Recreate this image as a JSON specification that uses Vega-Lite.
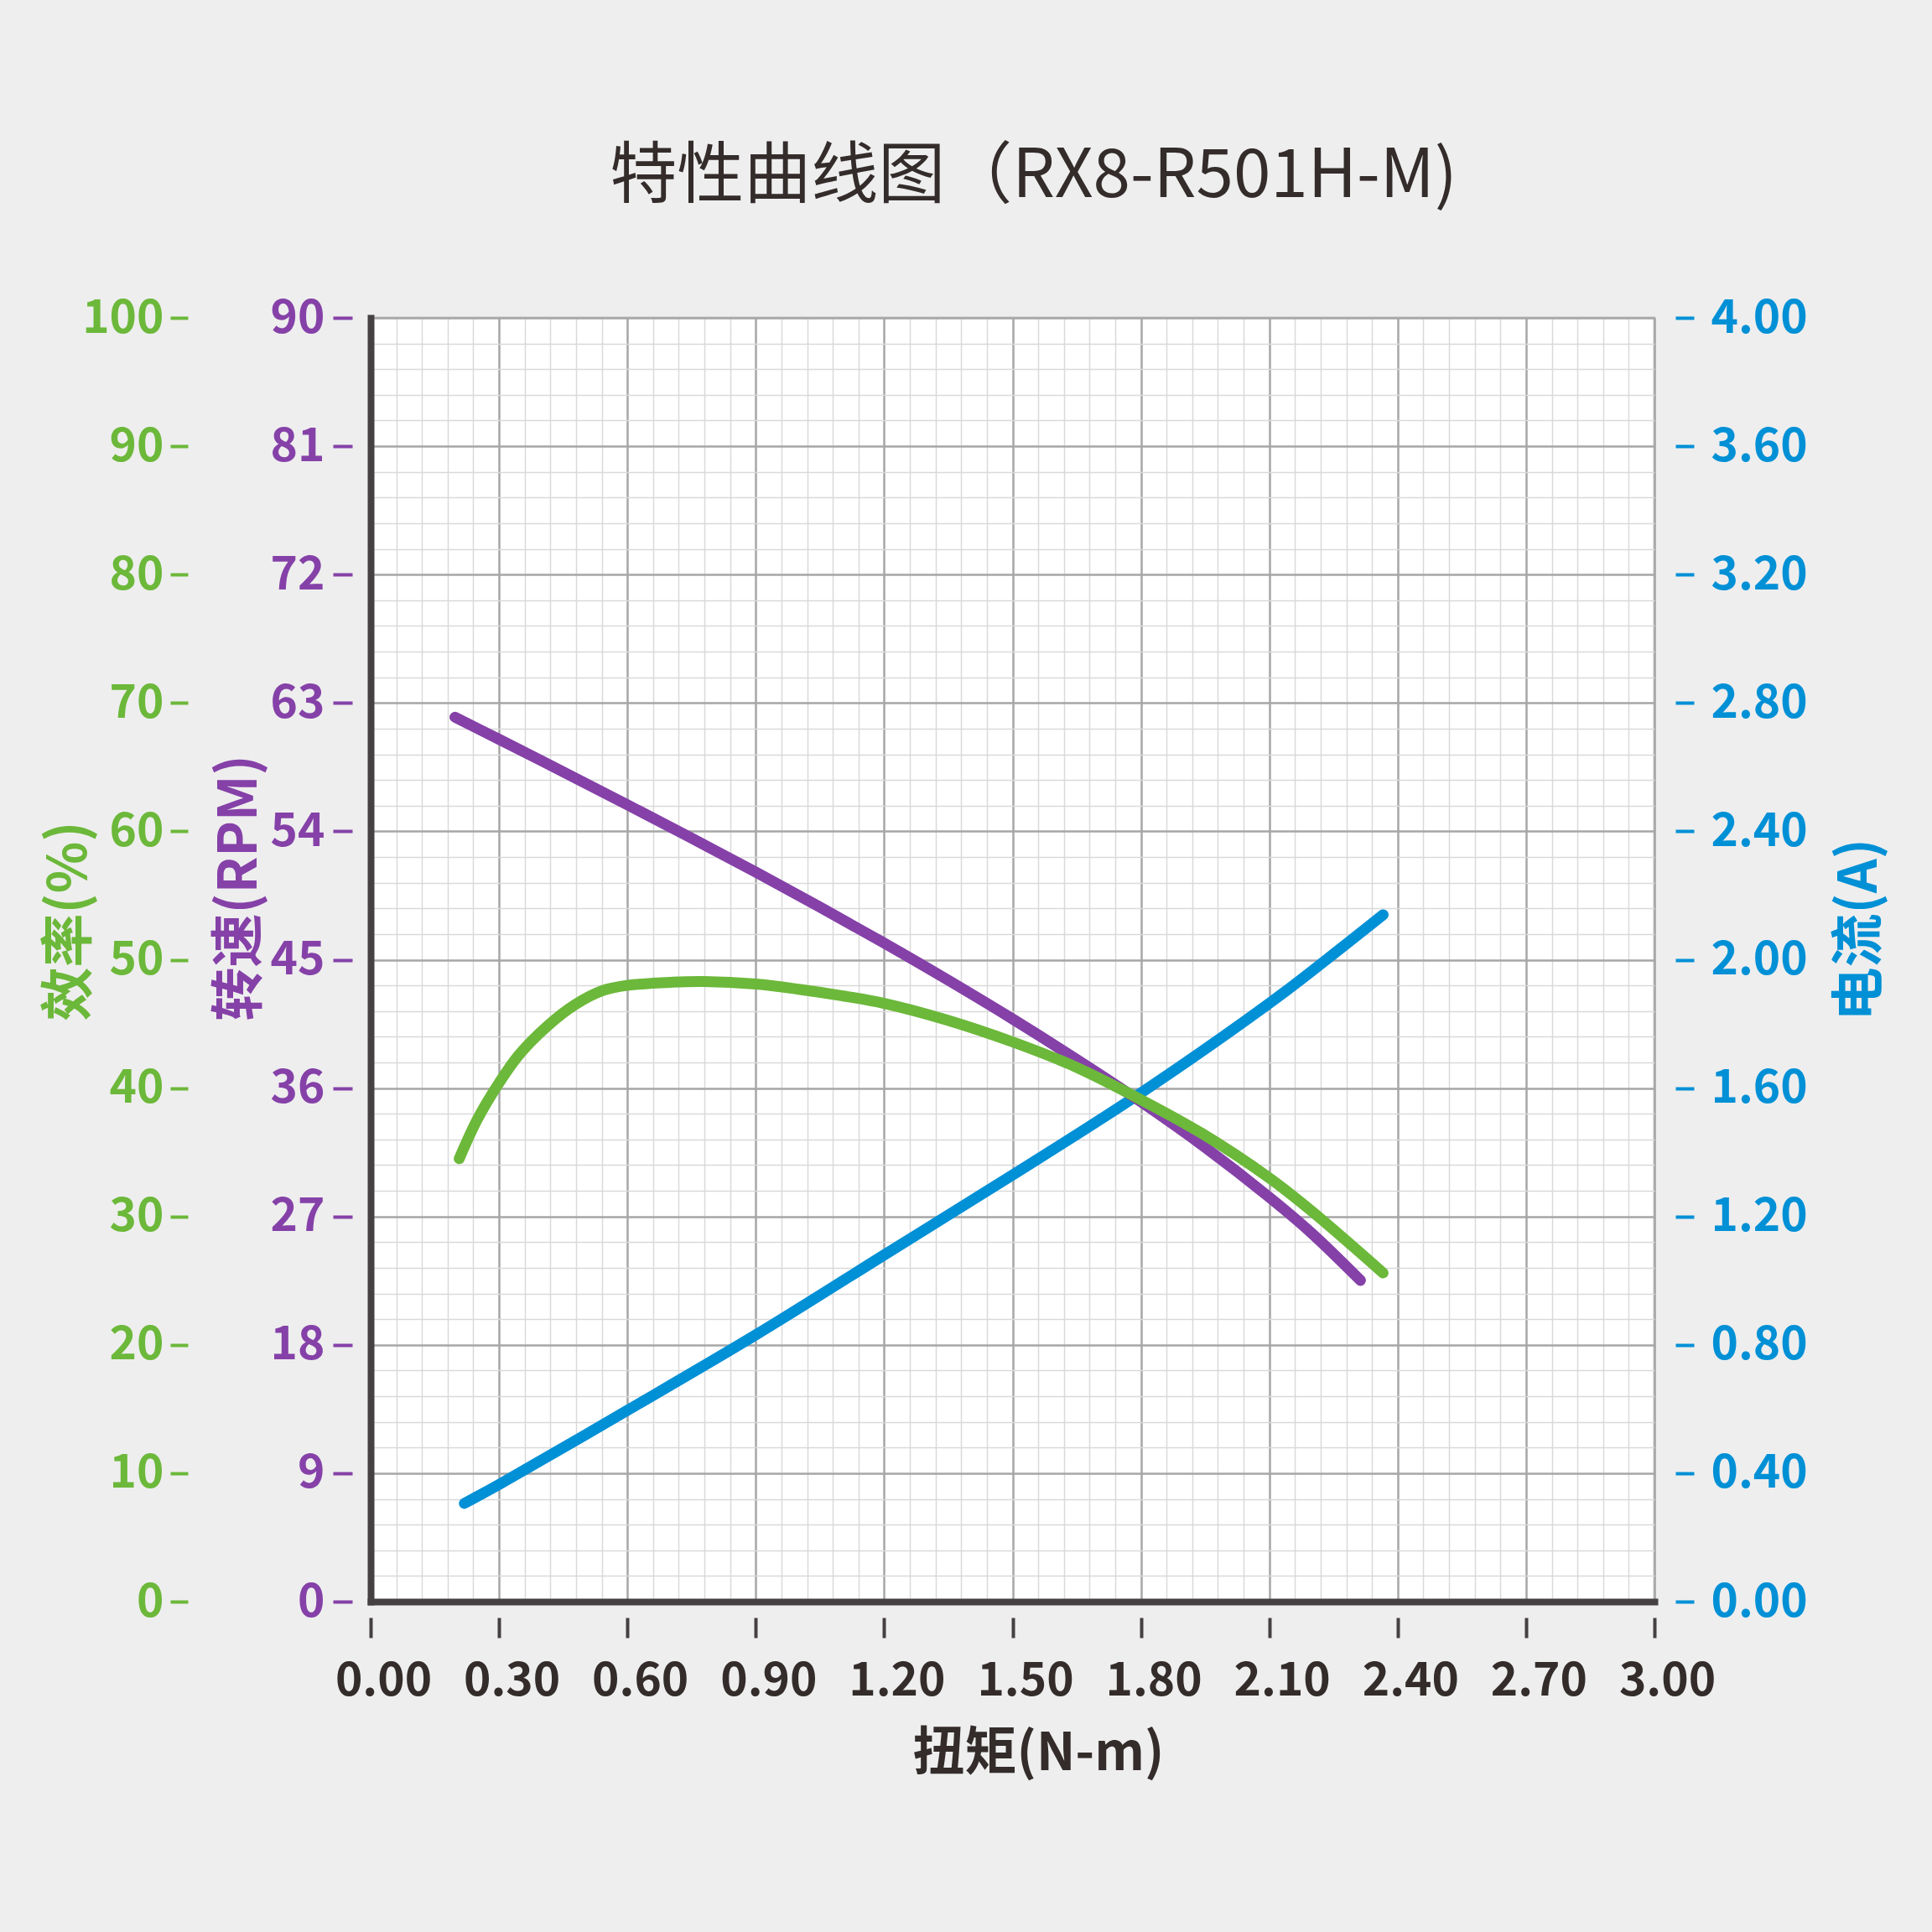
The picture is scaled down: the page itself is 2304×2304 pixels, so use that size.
{
  "$schema": "https://vega.github.io/schema/vega-lite/v6.json",
  "width": 1531,
  "height": 1531,
  "autosize": {"type": "none"},
  "padding": {"left": 442, "top": 379, "right": 331, "bottom": 394},
  "background": "#eeeeee",
  "config": {
    "view": {"stroke": "#c8c8c8", "strokeWidth": 3, "fill": "#ffffff"},
    "font": "Noto Sans CJK SC",
    "axis": {"labelFont": "Noto Sans CJK SC", "titleFont": "Noto Sans CJK SC"}
  },
  "title": {
    "text": "特性曲线图（RX8-R501H-M)",
    "fontSize": 80,
    "fontWeight": "normal",
    "color": "#332c2b",
    "font": "Noto Sans CJK SC",
    "anchor": "middle",
    "dx": 25,
    "offset": 100
  },
  "datasets": {
    "speed": [
      {"torque": 0.197, "rpm": 62.0},
      {"torque": 0.30, "rpm": 60.45},
      {"torque": 0.45, "rpm": 58.17},
      {"torque": 0.60, "rpm": 55.86},
      {"torque": 0.75, "rpm": 53.52},
      {"torque": 0.90, "rpm": 51.14},
      {"torque": 1.05, "rpm": 48.69},
      {"torque": 1.20, "rpm": 46.17},
      {"torque": 1.35, "rpm": 43.56},
      {"torque": 1.50, "rpm": 40.85},
      {"torque": 1.65, "rpm": 38.01},
      {"torque": 1.80, "rpm": 35.04},
      {"torque": 1.95, "rpm": 31.85},
      {"torque": 2.10, "rpm": 28.35},
      {"torque": 2.20, "rpm": 25.80},
      {"torque": 2.313, "rpm": 22.52}
    ],
    "eff": [
      {"torque": 0.207, "eff": 34.5},
      {"torque": 0.25, "eff": 37.6},
      {"torque": 0.30, "eff": 40.4},
      {"torque": 0.347, "eff": 42.6},
      {"torque": 0.412, "eff": 44.8},
      {"torque": 0.478, "eff": 46.5},
      {"torque": 0.543, "eff": 47.6},
      {"torque": 0.60, "eff": 48.0},
      {"torque": 0.706, "eff": 48.25},
      {"torque": 0.778, "eff": 48.3},
      {"torque": 0.90, "eff": 48.1},
      {"torque": 1.00, "eff": 47.7},
      {"torque": 1.10, "eff": 47.2},
      {"torque": 1.20, "eff": 46.6},
      {"torque": 1.347, "eff": 45.3},
      {"torque": 1.50, "eff": 43.6},
      {"torque": 1.644, "eff": 41.7},
      {"torque": 1.80, "eff": 39.1},
      {"torque": 1.941, "eff": 36.5},
      {"torque": 2.10, "eff": 33.0},
      {"torque": 2.196, "eff": 30.5},
      {"torque": 2.366, "eff": 25.6}
    ],
    "current": [
      {"torque": 0.219, "amp": 0.306},
      {"torque": 0.30, "amp": 0.365},
      {"torque": 0.60, "amp": 0.596},
      {"torque": 0.90, "amp": 0.831},
      {"torque": 1.20, "amp": 1.080},
      {"torque": 1.50, "amp": 1.329},
      {"torque": 1.80, "amp": 1.585},
      {"torque": 2.10, "amp": 1.864},
      {"torque": 2.238, "amp": 2.005},
      {"torque": 2.366, "amp": 2.140}
    ]
  },
  "encoding": {
    "x": {
      "field": "torque",
      "type": "quantitative",
      "scale": {"domain": [0, 3], "nice": false, "zero": false},
      "axis": {
        "title": "扭矩(N-m)",
        "values": [0,0.06,0.12,0.18,0.24,0.3,0.36,0.42,0.48,0.54,0.6,0.66,0.72,0.78,0.84,0.9,0.96,1.02,1.08,1.14,1.2,1.26,1.32,1.38,1.44,1.5,1.56,1.62,1.68,1.74,1.8,1.86,1.92,1.98,2.04,2.1,2.16,2.22,2.28,2.34,2.4,2.46,2.52,2.58,2.64,2.7,2.76,2.82,2.88,2.94,3],
        "labelExpr": "abs(datum.value/0.3 - round(datum.value/0.3)) < 0.000001 ? format(datum.value, '.2f') : ''",
        "labelFontSize": 55,
        "labelFontWeight": "bold",
        "labelColor": "#332c2b",
        "labelPadding": 25,
        "labelOffset": 15,
        "labelFlush": false,
        "labelOverlap": false,
        "domain": true,
        "domainColor": "#454041",
        "domainWidth": 8,
        "domainCap": "square",
        "ticks": true,
        "tickSize": 43,
        "tickWidth": 4,
        "tickColor": "#454041",
        "tickDash": [0, 19, 24],
        "tickOpacity": {"condition": {"test": "abs(datum.value/0.3 - round(datum.value/0.3)) < 0.000001", "value": 1}, "value": 0},
        "grid": true,
        "gridColor": {"condition": {"test": "abs(datum.value/0.3 - round(datum.value/0.3)) < 0.000001", "value": "#a6a6a6"}, "value": "#d9d9d9"},
        "gridWidth": {"condition": {"test": "abs(datum.value/0.3 - round(datum.value/0.3)) < 0.000001", "value": 2.5}, "value": 1.5},
        "titleFontSize": 62,
        "titleFontWeight": "bold",
        "titleColor": "#332c2b",
        "titleX": 796,
        "titleY": 181,
        "titleAlign": "center",
        "titleBaseline": "middle"
      }
    }
  },
  "layer": [
    {
      "data": {"name": "speed"},
      "mark": {"type": "point", "opacity": 0},
      "encoding": {
        "y": {
          "field": "rpm",
          "type": "quantitative",
          "scale": {"domain": [0, 90], "nice": false, "zero": false},
          "axis": {
            "orient": "left",
            "values": [0,1.8,3.6,5.4,7.2,9,10.8,12.6,14.4,16.2,18,19.8,21.6,23.4,25.2,27,28.8,30.6,32.4,34.2,36,37.8,39.6,41.4,43.2,45,46.8,48.6,50.4,52.2,54,55.8,57.6,59.4,61.2,63,64.8,66.6,68.4,70.2,72,73.8,75.6,77.4,79.2,81,82.8,84.6,86.4,88.2,90],
            "labels": false,
            "ticks": false,
            "title": null,
            "domain": true,
            "domainColor": "#454041",
            "domainWidth": 8,
            "domainCap": "square",
            "grid": true,
            "gridColor": {"condition": {"test": "abs(datum.value/9 - round(datum.value/9)) < 0.000001", "value": "#a6a6a6"}, "value": "#d9d9d9"},
            "gridWidth": {"condition": {"test": "abs(datum.value/9 - round(datum.value/9)) < 0.000001", "value": 2.5}, "value": 1.5}
          }
        }
      }
    },
    {
      "data": {"name": "current"},
      "mark": {"type": "line", "color": "#0090d6", "strokeWidth": 13, "strokeCap": "round", "interpolate": "catmull-rom"},
      "encoding": {
        "y": {
          "field": "amp",
          "type": "quantitative",
          "scale": {"domain": [0, 4], "nice": false, "zero": false},
          "axis": {
            "orient": "right",
            "offset": 25,
            "values": [0,0.4,0.8,1.2,1.6,2,2.4,2.8,3.2,3.6,4],
            "format": ".2f",
            "grid": false,
            "domain": false,
            "tickSize": 22,
            "tickWidth": 4,
            "tickColor": "#0090d6",
            "labelColor": "#0090d6",
            "labelFontSize": 55,
            "labelFontWeight": "bold",
            "labelPadding": 20,
            "title": "电流(A)",
            "titleColor": "#0090d6",
            "titleFontSize": 64,
            "titleFontWeight": "bold",
            "titleAngle": 270,
            "titleX": 220,
            "titleY": 838,
            "titleAlign": "left",
            "titleBaseline": "middle"
          }
        }
      }
    },
    {
      "data": {"name": "speed"},
      "mark": {"type": "line", "color": "#8541a8", "strokeWidth": 13, "strokeCap": "round", "interpolate": "catmull-rom"},
      "encoding": {
        "y": {
          "field": "rpm",
          "type": "quantitative",
          "scale": {"domain": [0, 90], "nice": false, "zero": false},
          "axis": {
            "orient": "left",
            "offset": 22,
            "values": [0,9,18,27,36,45,54,63,72,81,90],
            "format": "d",
            "grid": false,
            "domain": false,
            "tickSize": 23,
            "tickWidth": 4,
            "tickColor": "#8541a8",
            "labelColor": "#8541a8",
            "labelFontSize": 55,
            "labelFontWeight": "bold",
            "labelPadding": 10,
            "title": "转速(RPM)",
            "titleColor": "#8541a8",
            "titleFontSize": 64,
            "titleFontWeight": "bold",
            "titleAngle": 270,
            "titleX": -134,
            "titleY": 838,
            "titleAlign": "left",
            "titleBaseline": "middle"
          }
        }
      }
    },
    {
      "data": {"name": "eff"},
      "mark": {"type": "line", "color": "#6cb83a", "strokeWidth": 13, "strokeCap": "round", "interpolate": "catmull-rom"},
      "encoding": {
        "y": {
          "field": "eff",
          "type": "quantitative",
          "scale": {"domain": [0, 100], "nice": false, "zero": false},
          "axis": {
            "orient": "left",
            "offset": 218,
            "values": [0,10,20,30,40,50,60,70,80,90,100],
            "format": "d",
            "grid": false,
            "domain": false,
            "tickSize": 21,
            "tickWidth": 4,
            "tickColor": "#6cb83a",
            "labelColor": "#6cb83a",
            "labelFontSize": 55,
            "labelFontWeight": "bold",
            "labelPadding": 8,
            "title": "效率(%)",
            "titleColor": "#6cb83a",
            "titleFontSize": 64,
            "titleFontWeight": "bold",
            "titleAngle": 270,
            "titleX": -141,
            "titleY": 838,
            "titleAlign": "left",
            "titleBaseline": "middle"
          }
        }
      }
    }
  ],
  "resolve": {"scale": {"y": "independent"}, "axis": {"y": "independent"}}
}
